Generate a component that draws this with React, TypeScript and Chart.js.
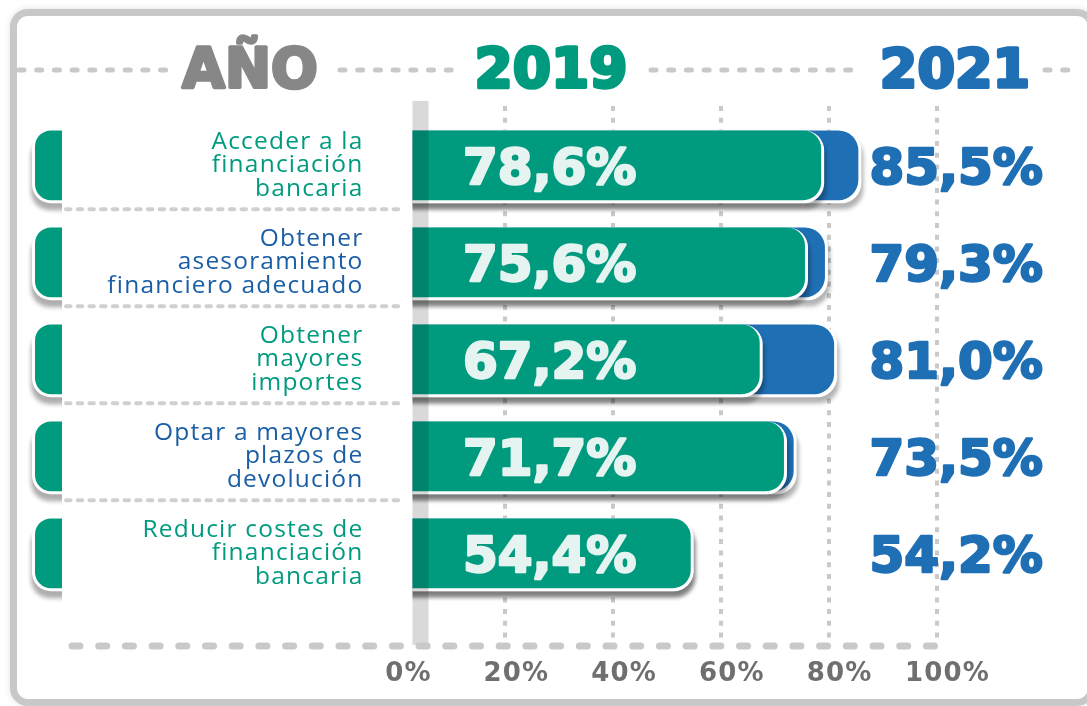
import React, { useEffect, useRef } from 'react';
import { Chart, registerables } from 'chart.js';

Chart.register(...registerables);

// ---------- data ----------
const categories: string[][] = [
  ['Acceder a la', 'financiación', 'bancaria'],
  ['Obtener', 'asesoramiento', 'financiero adecuado'],
  ['Obtener', 'mayores', 'importes'],
  ['Optar a mayores', 'plazos de', 'devolución'],
  ['Reducir costes de', 'financiación', 'bancaria'],
];
const values2019 = [78.6, 75.6, 67.2, 71.7, 54.4];
const values2021 = [85.5, 79.3, 81.0, 73.5, 54.2];
const xTicks = [0, 20, 40, 60, 80, 100];
const headerTitle = 'AÑO';
const yearLabels = ['2019', '2021'];

// ---------- styles ----------
const GREEN = '#009b7f';
const BLUE = '#1f6fb5';
const LABEL_BLUE = '#1a5ea6';
const HEAD_GRAY = '#878787';
const TICK_GRAY = '#6f6f6f';
const DASH_GRAY = '#c9c9c9';
const HEAVY = '"DejaVu Sans", sans-serif';
const BAR_CLIP = 15;
const TAB_X = 35;
const TAB_END = 62;

const fmt = (v: number) => v.toFixed(1).replace('.', ',') + '%';

function dashedLine(ctx: CanvasRenderingContext2D, x0: number, y0: number, x1: number, y1: number,
  width: number, dash: number[], cap: CanvasLineCap, color = DASH_GRAY) {
  ctx.save();
  ctx.strokeStyle = color;
  ctx.lineWidth = width;
  ctx.lineCap = cap;
  ctx.setLineDash(dash);
  ctx.beginPath();
  ctx.moveTo(x0, y0);
  ctx.lineTo(x1, y1);
  ctx.stroke();
  ctx.restore();
}

function heavyText(ctx: CanvasRenderingContext2D, text: string, x: number, y: number, size: number,
  color: string, align: CanvasTextAlign, stroke = 2.2) {
  ctx.save();
  ctx.font = `bold ${size}px ${HEAVY}`;
  ctx.textAlign = align;
  ctx.textBaseline = 'alphabetic';
  ctx.fillStyle = color;
  ctx.strokeStyle = color;
  ctx.lineWidth = stroke;
  ctx.lineJoin = 'round';
  ctx.fillText(text, x, y);
  ctx.strokeText(text, x, y);
  ctx.restore();
}

const decor = {
  id: 'decor',
  beforeDraw(chart: any) {
    (chart.ctx as any).letterSpacing = '1.2px';
  },
  beforeDatasetsDraw(chart: any) {
    const ctx: CanvasRenderingContext2D = chart.ctx;
    (ctx as any).letterSpacing = '0px';
    const xs = chart.scales.x;
    xTicks.filter((v) => v > 0).forEach((v) => {
      const px = Math.round(xs.getPixelForValue(v));
      dashedLine(ctx, px, 106, px, 642, 4, [5, 6.7], 'butt');
    });
    // left tabs
    const meta = chart.getDatasetMeta(0);
    meta.data.forEach((el: any) => {
      const { y, height } = el.getProps(['y', 'height'], true);
      const top = y - height / 2;
      ctx.save();
      ctx.beginPath();
      ctx.rect(0, 0, TAB_END, chart.height);
      ctx.clip();
      ctx.shadowColor = 'rgba(0,0,0,0.32)';
      ctx.shadowBlur = 4;
      ctx.shadowOffsetX = -1;
      ctx.shadowOffsetY = 7;
      ctx.fillStyle = '#ffffff';
      ctx.beginPath();
      (ctx as any).roundRect(TAB_X - 3, top, 100, height + 3, [19, 0, 0, 19]);
      ctx.fill();
      ctx.shadowColor = 'transparent';
      ctx.fillStyle = GREEN;
      ctx.beginPath();
      (ctx as any).roundRect(TAB_X, top, 100, height, [16, 0, 0, 16]);
      ctx.fill();
      ctx.restore();
    });
  },
  beforeDatasetDraw(chart: any, args: any) {
    const ctx: CanvasRenderingContext2D = chart.ctx;
    const clipLeft = chart.chartArea.left + BAR_CLIP;
    ctx.save();
    ctx.beginPath();
    ctx.rect(clipLeft, 0, chart.width, chart.height);
    ctx.clip();
    ctx.shadowColor = 'rgba(0,0,0,0.3)';
    ctx.shadowBlur = 4;
    ctx.shadowOffsetX = 2;
    ctx.shadowOffsetY = 6;
    ctx.fillStyle = '#ffffff';
    args.meta.data.forEach((el: any) => {
      const { x, y, base, height } = el.getProps(['x', 'y', 'base', 'height'], true);
      ctx.beginPath();
      (ctx as any).roundRect(base, y - height / 2, x - base + 3, height + 3, [0, 20, 20, 0]);
      ctx.fill();
    });
    ctx.restore();
  },
  afterDatasetsDraw(chart: any) {
    const ctx: CanvasRenderingContext2D = chart.ctx;
    const area = chart.chartArea;
    const meta = chart.getDatasetMeta(0);
    // gray band at axis start
    ctx.save();
    ctx.fillStyle = 'rgba(0,0,0,0.15)';
    ctx.fillRect(area.left + BAR_CLIP, 101, 16, 544);
    ctx.restore();
    // row separators
    meta.data.forEach((el: any, i: number) => {
      if (i === meta.data.length - 1) return;
      const { y, height } = el.getProps(['y', 'height'], true);
      const sy = y + height / 2 + 9;
      dashedLine(ctx, 66, sy, 403, sy, 4, [4.5, 7.2], 'round', '#d0d0d0');
    });
    // bottom dashed line
    dashedLine(ctx, 72, 646, 952, 646, 7, [8, 18.7], 'round');
    // values inside bars (2019)
    meta.data.forEach((el: any, i: number) => {
      const { y } = el.getProps(['y'], true);
      heavyText(ctx, fmt(values2019[i]), area.left + 65.5, y + 19, 50, '#e6f4f1', 'left', 2.4);
    });
    // values 2021
    meta.data.forEach((el: any, i: number) => {
      const { y } = el.getProps(['y'], true);
      heavyText(ctx, fmt(values2021[i]), area.right - 67, y + 19, 50, BLUE, 'left', 2.4);
    });
    // header
    const hy = 70;
    dashedLine(ctx, 19, hy, 166, hy, 5, [5, 12.7], 'round');
    dashedLine(ctx, 340, hy, 460, hy, 5, [5, 12.7], 'round');
    dashedLine(ctx, 651, hy, 860, hy, 5, [5, 12.7], 'round');
    dashedLine(ctx, 1045, hy, 1080, hy, 5, [5, 12.7], 'round');
    heavyText(ctx, headerTitle, 250, 87, 55, HEAD_GRAY, 'center', 3.4);
    heavyText(ctx, yearLabels[0], 551, 87, 55, GREEN, 'center', 3.4);
    heavyText(ctx, yearLabels[1], 955, 87, 54, BLUE, 'center', 3.4);
  },
};

export default function App() {
  const ref = useRef<HTMLCanvasElement>(null);
  useEffect(() => {
    const chart = new Chart(ref.current as HTMLCanvasElement, {
      type: 'bar',
      data: {
        labels: categories,
        datasets: [
          {
            label: yearLabels[0],
            data: values2019,
            backgroundColor: GREEN,
            grouped: false,
            barPercentage: 0.72,
            categoryPercentage: 1,
            borderRadius: 18,
            borderWidth: 0,
            clip: { left: -BAR_CLIP, right: 30, top: 30, bottom: 30 },
          } as any,
          {
            label: yearLabels[1],
            data: values2021,
            backgroundColor: BLUE,
            grouped: false,
            barPercentage: 0.72,
            categoryPercentage: 1,
            borderRadius: 20,
            borderWidth: 0,
            clip: { left: -BAR_CLIP, right: 30, top: 30, bottom: 30 },
          } as any,
        ],
      },
      options: {
        indexAxis: 'y',
        responsive: false,
        animation: false,
        devicePixelRatio: 1,
        layout: { padding: { top: 116.8, right: 150.5, bottom: 0, left: 0 } },
        plugins: {
          legend: { display: false },
          tooltip: { enabled: false },
          title: { display: false },
        },
        scales: {
          x: {
            type: 'linear',
            min: 0,
            max: 100,
            position: 'bottom',
            z: 1,
            grid: { display: false },
            border: { display: false },
            afterFit: (s: any) => { s.height = 104.2; },
            afterBuildTicks: (s: any) => { s.ticks = xTicks.map((v) => ({ value: v })); },
            ticks: {
              callback: (v: any) => v + '%',
              font: { family: HEAVY, weight: 'bold', size: 26, lineHeight: 1.2 },
              color: TICK_GRAY,
              padding: 49,
              labelOffset: 11,
              autoSkip: false,
              maxRotation: 0,
            },
          },
          y: {
            grid: { display: false },
            border: { display: false },
            afterFit: (s: any) => { s.width = 397.5; },
            ticks: {
              font: { family: '"Open Sans", sans-serif', size: 24.5, lineHeight: 0.97 },
              color: (c: any) => (c.index % 2 ? LABEL_BLUE : GREEN),
              padding: 26,
              autoSkip: false,
            },
          },
        },
      } as any,
      plugins: [decor as any],
    });
    return () => chart.destroy();
  }, []);

  return (
    <div style={{ position: 'fixed', left: 0, top: 0, width: 1087, height: 706, background: '#ffffff', overflow: 'hidden' }}>
      <div
        style={{
          position: 'absolute', left: 10, top: 9, width: 1085, height: 697, boxSizing: 'border-box',
          border: '7px solid #c8c8c8', borderRadius: 18, background: '#ffffff',
          boxShadow: '0 0 6px rgba(0,0,0,0.12)',
        }}
      />
      <canvas ref={ref} width={1087} height={706}
        style={{ position: 'absolute', left: 0, top: 0, width: 1087, height: 706 }} />
    </div>
  );
}
